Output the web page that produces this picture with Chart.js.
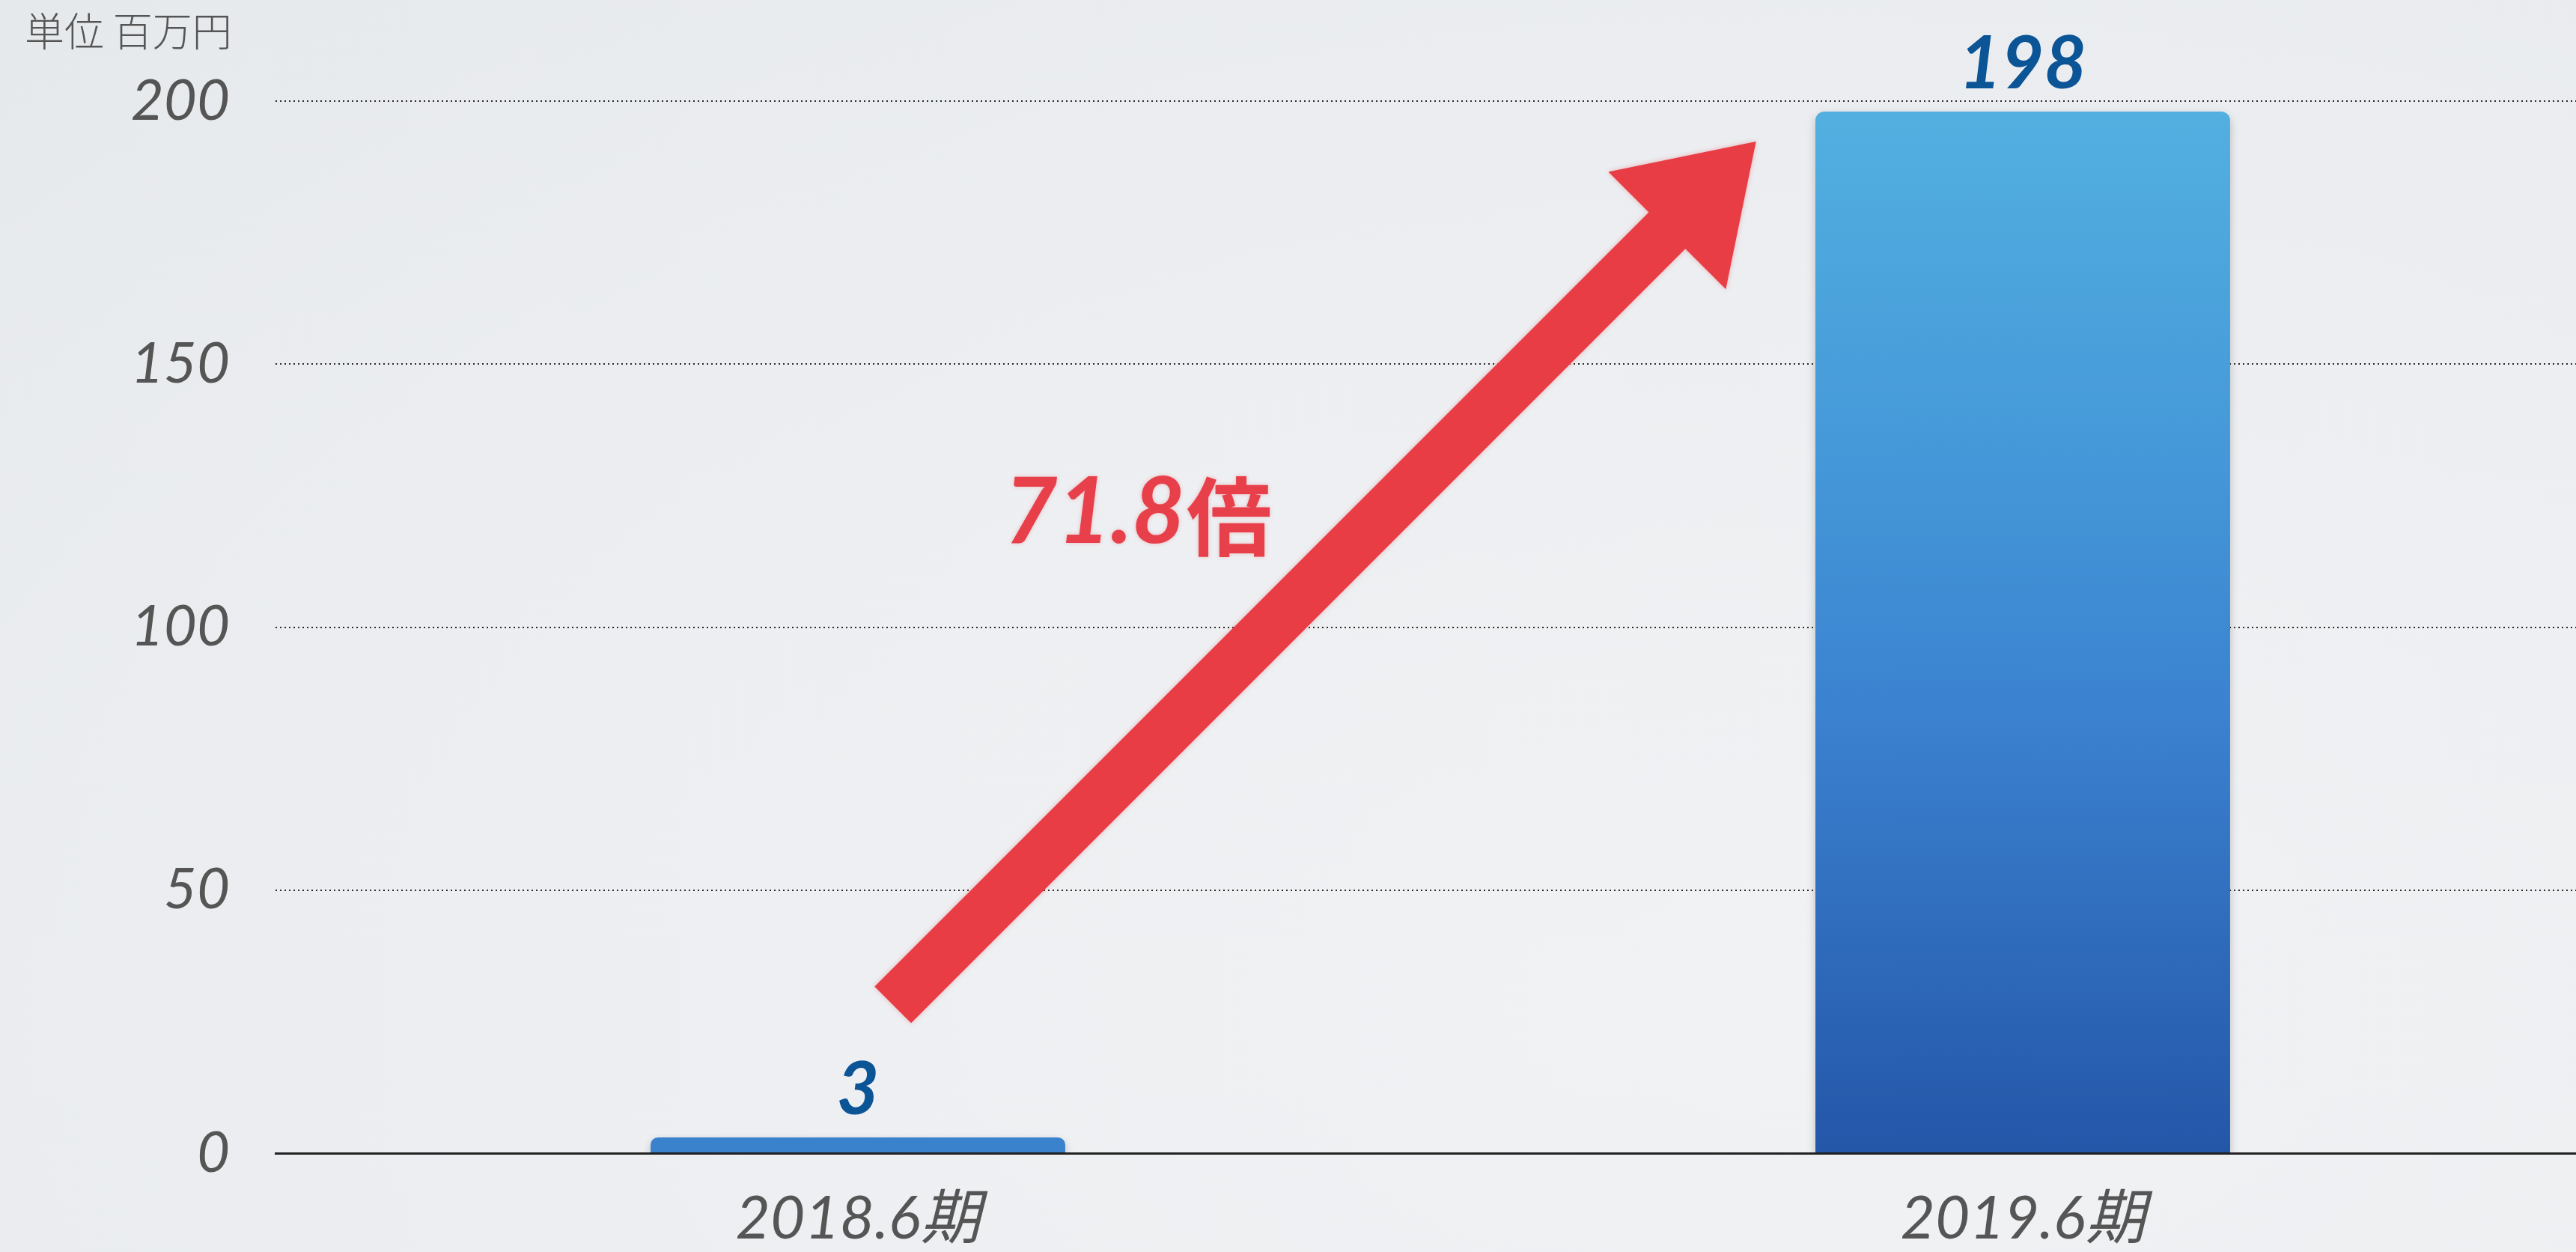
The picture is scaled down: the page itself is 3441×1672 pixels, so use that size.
<!DOCTYPE html>
<html>
<head>
<meta charset="utf-8">
<script src="https://cdn.jsdelivr.net/npm/chart.js@4.4.1/dist/chart.umd.min.js"></script>
<style>
  html, body { margin: 0; padding: 0; overflow: hidden; background: #eceef1; }
  #wrap { position: relative; width: 3441px; height: 1672px; overflow: hidden;
    background: radial-gradient(ellipse at 70% 80%, #f1f2f4 0%, #eceef1 55%, #e6e9ec 100%); }
  canvas { position: absolute; left: 0; top: 0; }
</style>
</head>
<body>
<div id="wrap"><canvas id="c" width="3480" height="1672"></canvas></div>
<script>
// ---- data ----
const categories = ["2018.6期", "2019.6期"];
const revenue = [3, 198];
const yTicks = [0, 50, 100, 150, 200];
const unitLabel = "単位 百万円";
const growthLabel = ["71.8", "倍"];
// arrow anchors in data space (category index, value)
const arrowTail = [0.03, 28.2];
const arrowTip = [0.771, 192.3];
const growthLabelAt = [0.24, 122.4];

const LATO = "Lato, 'Noto Sans', 'Noto Sans CJK JP', sans-serif";

const overlay = {
  id: 'overlay',
  afterDatasetsDraw(chart) {
    const ctx = chart.ctx;
    const xs = chart.scales.x, ys = chart.scales.y;
    // value labels
    const meta = chart.getDatasetMeta(0);
    ctx.save();
    ctx.fillStyle = '#0b5496';
    ctx.font = "italic 700 98px " + LATO;
    ctx.textAlign = 'center';
    ctx.textBaseline = 'alphabetic';
    meta.data.forEach((bar, i) => {
      ctx.fillText(String(revenue[i]), bar.x, bar.y - 31);
    });
    ctx.restore();

    // arrow
    const tx = xs.getPixelForValue(arrowTail[0]), ty = ys.getPixelForValue(arrowTail[1]);
    const hx = xs.getPixelForValue(arrowTip[0]), hy = ys.getPixelForValue(arrowTip[1]);
    const dx = hx - tx, dy = hy - ty, len = Math.hypot(dx, dy);
    const ux = dx / len, uy = dy / len, px = -uy, py = ux;
    const shaftW = 69, headW = 222, headL = 168;
    const bx = hx - ux * headL, by = hy - uy * headL;
    ctx.save();
    ctx.shadowColor = 'rgba(233,61,69,0.35)';
    ctx.shadowBlur = 6;
    ctx.fillStyle = '#e93d45';
    ctx.beginPath();
    ctx.moveTo(tx + px * shaftW / 2, ty + py * shaftW / 2);
    ctx.lineTo(bx + px * shaftW / 2, by + py * shaftW / 2);
    ctx.lineTo(bx + px * headW / 2, by + py * headW / 2);
    ctx.lineTo(hx, hy);
    ctx.lineTo(bx - px * headW / 2, by - py * headW / 2);
    ctx.lineTo(bx - px * shaftW / 2, by - py * shaftW / 2);
    ctx.lineTo(tx - px * shaftW / 2, ty - py * shaftW / 2);
    ctx.closePath();
    ctx.fill();
    ctx.restore();

    // growth label
    const gx = xs.getPixelForValue(growthLabelAt[0]), gy = ys.getPixelForValue(growthLabelAt[1]);
    ctx.save();
    ctx.fillStyle = '#e8404a';
    ctx.shadowColor = 'rgba(232,64,74,0.3)';
    ctx.shadowBlur = 5;
    ctx.textBaseline = 'alphabetic';
    const f1 = "italic 700 122px " + LATO;
    const f2 = "700 114px 'Noto Sans CJK JP', sans-serif";
    ctx.font = f1; const w1 = ctx.measureText(growthLabel[0]).width;
    ctx.font = f2; const w2 = ctx.measureText(growthLabel[1]).width;
    const start = gx - (w1 + w2) / 2;
    const base = gy + 45;
    ctx.font = f1; ctx.textAlign = 'left';
    ctx.fillText(growthLabel[0], start, base);
    ctx.font = f2;
    ctx.fillText(growthLabel[1], start + w1 + 2, base + 8);
    ctx.restore();

    // unit label
    ctx.save();
    ctx.fillStyle = '#555555';
    ctx.font = "300 53px 'Noto Sans CJK JP', sans-serif";
    ctx.textAlign = 'left';
    ctx.textBaseline = 'alphabetic';
    ctx.fillText(unitLabel, 33, 62);
    ctx.restore();
  }
};

const barShadow = {
  id: 'barShadow',
  beforeDatasetsDraw(chart) {
    chart.ctx.save();
    chart.ctx.shadowColor = 'rgba(0,0,0,0.22)';
    chart.ctx.shadowBlur = 12;
    chart.ctx.shadowOffsetY = 5;
  },
  afterDatasetsDraw(chart) { chart.ctx.restore(); }
};

function barColor(context) {
  const chart = context.chart;
  const area = chart.chartArea;
  if (!area) return '#3b82cc';
  if (context.dataIndex === 0) return '#3b82cc';
  const g = chart.ctx.createLinearGradient(0, area.top, 0, area.bottom);
  g.addColorStop(0, '#53b0e0');
  g.addColorStop(0.35, '#4497d8');
  g.addColorStop(0.58, '#3b82d0');
  g.addColorStop(1, '#2456a8');
  return g;
}

new Chart(document.getElementById('c'), {
  type: 'bar',
  data: {
    labels: categories,
    datasets: [{
      data: revenue,
      backgroundColor: barColor,
      borderRadius: { topLeft: 12, topRight: 12, bottomLeft: 0, bottomRight: 0 },
      borderSkipped: 'bottom',
      categoryPercentage: 1.0,
      barPercentage: 0.356
    }]
  },
  options: {
    responsive: false,
    animation: false,
    devicePixelRatio: 1,
    layout: { padding: { top: 135, left: 0, right: 0, bottom: 0 } },
    plugins: { legend: { display: false }, tooltip: { enabled: false } },
    scales: {
      x: {
        grid: { display: false, drawTicks: false },
        border: { display: true, color: '#222222', width: 3 },
        ticks: { color: '#555555', padding: 40, font: { family: LATO, size: 80, style: 'italic', weight: 400 } },
        afterFit(scale) { scale.height = 132; }
      },
      y: {
        min: 0, max: 200,
        afterBuildTicks(scale) { scale.ticks = yTicks.map(v => ({ value: v })); },
        grid: {
          drawTicks: false,
          color: '#2a2a2a',
          lineWidth: 2,
        },
        border: { display: false, dash: [2, 4] },
        ticks: { color: '#555555', padding: 61, font: { family: LATO, size: 76, style: 'italic', weight: 400 } },
        afterFit(scale) { scale.width = 368; }
      }
    }
  },
  plugins: [barShadow, overlay]
});
</script>
</body>
</html>
